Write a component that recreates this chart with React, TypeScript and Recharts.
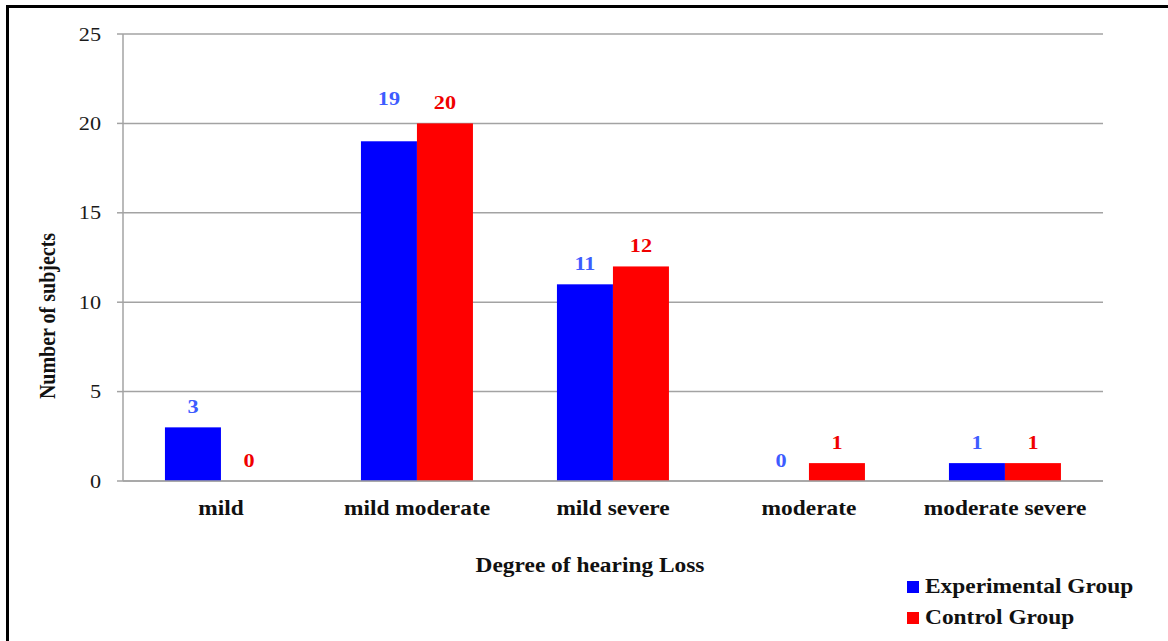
import React from 'react';
import { BarChart, Bar, XAxis, YAxis, CartesianGrid } from 'recharts';

// Degree of hearing loss, subjects per group
const categories = ['mild', 'mild moderate', 'mild severe', 'moderate', 'moderate severe'];
const experimentalGroup = [3, 19, 11, 0, 1];
const controlGroup = [0, 20, 12, 1, 1];
const yTicks = [0, 5, 10, 15, 20, 25];
const categoryEdges = [0, 1, 2, 3, 4, 5];

const data = categories.map((name, i) => ({
  name,
  experimental: experimentalGroup[i],
  control: controlGroup[i],
  edge: i,
}));

const W = 1168;
const H = 641;
const MARGIN = { top: 34, right: 65, left: 63, bottom: 130 };
const Y_AXIS_W = 60;
const X_AXIS_H = 30;
const PLOT_TOP = MARGIN.top;
const PLOT_BOTTOM = H - MARGIN.bottom - X_AXIS_H;
const Y_MAX = 25;

const FONT = '"Liberation Serif", "Times New Roman", serif';
const STRETCH = 1.17;
const GRID = '#a3a3a3';
const BLUE = '#0000ff';
const RED = '#ff0000';
const BLUE_TEXT = '#3d5cff';
const RED_TEXT = '#f00000';

const gridY = (t: number) => PLOT_BOTTOM - (t / Y_MAX) * (PLOT_BOTTOM - PLOT_TOP);

const YTick = (props: any) => {
  const { x, y, payload } = props;
  return (
    <text
      transform={`translate(${x},${y}) scale(${STRETCH},1)`}
      textAnchor="end"
      dy="0.35em"
      fontFamily={FONT}
      fontSize={19}
      fill="#1a1a1a"
    >
      {payload.value}
    </text>
  );
};

const XTick = (props: any) => {
  const { x, y, payload } = props;
  return (
    <text
      transform={`translate(${x},${y}) scale(${STRETCH},1)`}
      textAnchor="middle"
      dy="0.71em"
      fontFamily={FONT}
      fontWeight="bold"
      fontSize={20}
      fill="#111"
    >
      {payload.value}
    </text>
  );
};

// Bar rectangle plus its value label above; the label is lifted clear of a
// gridline when it would sit on one. Zero-valued bars still get their label.
const makeBarShape = (fill: string, labelColor: string) => (props: any) => {
  const { x, y, width, height, value } = props;
  const v = Array.isArray(value) ? value[1] - value[0] : value;
  const bx = Number(x);
  const bw = Number(width);
  const h = Math.max(0, Number(height));
  const top = Number(y);
  const cx = bx + bw / 2;
  let cy = top - 21;
  for (const t of yTicks) {
    const g = gridY(t);
    if (t > 0 && Math.abs(cy - g) < 9) cy = g - 25;
  }
  return (
    <g>
      {h > 0 && <rect x={bx} y={top} width={bw} height={h} fill={fill} />}
      <text
        transform={`translate(${cx},${cy}) scale(${STRETCH},1)`}
        textAnchor="middle"
        dy="0.35em"
        fontFamily={FONT}
        fontWeight="bold"
        fontSize={19}
        fill={labelColor}
      >
        {v}
      </text>
    </g>
  );
};

const legendItems = [
  { label: 'Experimental Group', color: BLUE },
  { label: 'Control Group', color: RED },
];

export default function App() {
  return (
    <div
      style={{
        position: 'absolute',
        left: 0,
        top: 0,
        width: W,
        height: H,
        overflow: 'hidden',
        background: '#fff',
      }}
    >
      <div
        style={{
          position: 'absolute',
          left: 6,
          top: 5,
          width: W + 40,
          height: H + 40,
          border: '3px solid #000',
        }}
      />
      <div style={{ position: 'absolute', left: 0, top: 0 }}>
        <BarChart
          width={W}
          height={H}
          data={data}
          margin={MARGIN}
          barCategoryGap="21.4%"
          barGap={0}
        >
          <CartesianGrid horizontal vertical={false} stroke={GRID} strokeWidth={1.5} />
          <XAxis
            xAxisId="edges"
            type="number"
            dataKey="edge"
            domain={[0, 5]}
            ticks={categoryEdges}
            height={0}
            axisLine={false}
            tickLine={{ stroke: GRID, strokeWidth: 1.5 }}
            tickSize={5}
            tickFormatter={() => ''}
            allowDataOverflow
          />
          <XAxis
            dataKey="name"
            height={X_AXIS_H}
            tickLine={false}
            axisLine={{ stroke: GRID, strokeWidth: 1.5 }}
            tickSize={0}
            tickMargin={20}
            tick={<XTick />}
            interval={0}
            label={{
              content: () => (
                <text
                  transform={`translate(590,565) scale(${STRETCH},1)`}
                  textAnchor="middle"
                  dy="0.35em"
                  fontFamily={FONT}
                  fontWeight="bold"
                  fontSize={20}
                  fill="#111"
                >
                  Degree of hearing Loss
                </text>
              ),
            }}
          />
          <YAxis
            width={Y_AXIS_W}
            domain={[0, Y_MAX]}
            ticks={yTicks}
            interval={0}
            axisLine={{ stroke: GRID, strokeWidth: 1.5 }}
            tickLine={{ stroke: GRID, strokeWidth: 1.5 }}
            tickSize={6}
            tickMargin={16}
            tick={<YTick />}
            label={{
              content: () => (
                <text
                  transform="translate(47,316) rotate(-90) scale(1,1.17)"
                  textAnchor="middle"
                  dy="0.35em"
                  fontFamily={FONT}
                  fontWeight="bold"
                  fontSize={20}
                  fill="#111"
                >
                  Number of subjects
                </text>
              ),
            }}
          />
          <Bar
            dataKey="experimental"
            fill={BLUE}
            isAnimationActive={false}
            shape={makeBarShape(BLUE, BLUE_TEXT)}
          />
          <Bar
            dataKey="control"
            fill={RED}
            isAnimationActive={false}
            shape={makeBarShape(RED, RED_TEXT)}
          />
        </BarChart>
      </div>
      <div style={{ position: 'absolute', left: 907, top: 571 }}>
        {legendItems.map((item) => (
          <div key={item.label} style={{ display: 'flex', alignItems: 'center', height: 31 }}>
            <span
              style={{
                display: 'inline-block',
                width: 12,
                height: 12,
                background: item.color,
                marginRight: 6,
              }}
            />
            <span
              style={{
                fontFamily: FONT,
                fontWeight: 'bold',
                fontSize: 20,
                color: '#111',
                display: 'inline-block',
                transform: `scaleX(${STRETCH})`,
                transformOrigin: 'left center',
                whiteSpace: 'nowrap',
              }}
            >
              {item.label}
            </span>
          </div>
        ))}
      </div>
    </div>
  );
}
